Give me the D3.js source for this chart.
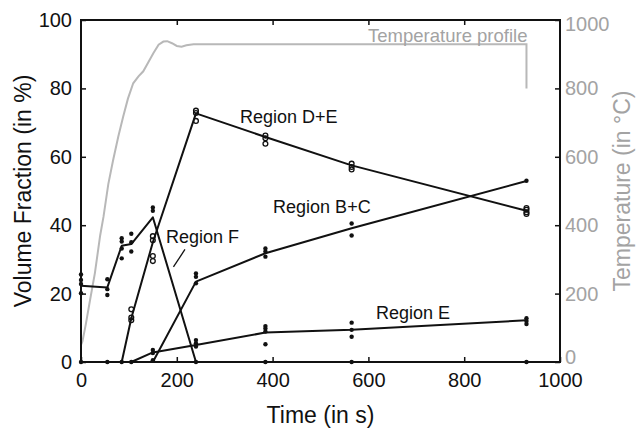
<!DOCTYPE html>
<html><head><meta charset="utf-8">
<script src="https://cdn.jsdelivr.net/npm/d3@7"></script>
<style>body{margin:0;background:#fff}svg{display:block;font-family:Arial,"Liberation Sans",sans-serif}</style>
</head><body><svg id="c" width="637" height="430"></svg>
<script>
// ---- data ----
const times = [0, 55, 85, 105, 150, 240, 385, 565, 930];
const regionF  = [22.3, 21.8, 34, 34.5, 42.3, 0, 0, 0, 0];
const regionDE = [0, 0, 0, 12.8, 35, 72.7, 65.8, 57.5, 44.2];
const regionBC = [0, 0, 0, 0, 0, 23.5, 31.8, 39.1, 52.9];
const regionE  = [0, 0, 0, 0, 2.8, 5, 8.6, 9.4, 12.2];

const dotsF  = [[0,25.6],[0,24],[0,22.8],[0,20.1],[55,24.2],[55,21.3],[55,19.6],[85,36.2],[85,35.2],[85,33.2],[85,30.3],[105,37.5],[105,35],[105,32.3],[150,45.2],[150,44.2],[240,0],[385,0],[565,0],[930,0]];
const dotsDEopen = [[105,15.4],[105,13],[105,12.2],[150,36.8],[150,35.6],[150,31],[150,29.5],[240,73.5],[240,72.8],[240,70.5],[385,66.2],[385,65.4],[385,63.8],[565,58],[565,57],[565,56.3],[930,45],[930,44.5],[930,43.8],[930,43.3]];
const dotsDEzero = [[0,0],[55,0],[85,0]];
const dotsBC = [[150,0.5],[240,25.9],[240,24.9],[240,23],[385,33.2],[385,32.3],[385,30.8],[565,40.5],[565,37],[930,53]];
const dotsE  = [[105,0],[150,3.5],[150,2.6],[240,6.4],[240,5.5],[240,4.5],[385,10.5],[385,9.8],[385,8.9],[385,5.2],[565,11.5],[565,9.4],[565,7.4],[930,12.8],[930,12],[930,11.1]];

const tempTime  = [0, 3, 10, 20, 29, 40, 47, 57, 67, 78, 88, 98, 109, 120, 130, 140, 151, 162, 172, 180, 190, 200, 210, 220, 235, 930, 930];
const tempValue = [50, 60, 110, 190, 260, 370, 425, 520, 590, 660, 717, 770, 815, 835, 850, 875, 903, 928, 937, 938, 932, 924, 922, 926, 929, 929, 800];

const xTicks = [0, 200, 400, 600, 800, 1000];
const yTicks = [0, 20, 40, 60, 80, 100];
const y2Ticks = [0, 200, 400, 600, 800, 1000];

const labels = [
  {text: "Region D+E", t: 332, v: 69.9},
  {text: "Region B+C", t: 401, v: 43.6},
  {text: "Region F", t: 177.5, v: 34.7},
  {text: "Region E", t: 616, v: 12.6}
];

// ---- layout ----
const L = 81, R = 560, T = 20, B = 362;
const FONT = "Arial, 'Liberation Sans', sans-serif";
const svg = d3.select("#c");
const x = d3.scaleLinear().domain([0, 1000]).range([L, R]);
const y = d3.scaleLinear().domain([0, 100]).range([B, T]);
const y2 = d3.scaleLinear().domain([0, 1000]).range([B, T]);
const gray = "#a3a3a3";

// temperature profile
svg.append("path")
  .datum(tempTime.map((t, i) => [t, tempValue[i]]))
  .attr("fill", "none").attr("stroke", "#b8b8b8").attr("stroke-width", 2)
  .attr("d", d3.line().x(d => x(d[0])).y(d => y2(d[1])));

// region lines
const line = d3.line().x(d => x(d[0])).y(d => y(d[1]));
[regionF, regionDE, regionBC, regionE].forEach(s => {
  svg.append("path").datum(times.map((t, i) => [t, s[i]]))
    .attr("fill", "none").attr("stroke", "#111").attr("stroke-width", 2)
    .attr("stroke-linejoin", "round").attr("d", line);
});

// dots
const filled = dotsF.concat(dotsDEzero, dotsBC, dotsE);
svg.append("g").selectAll("circle").data(filled).join("circle")
  .attr("cx", d => x(d[0])).attr("cy", d => y(d[1])).attr("r", 2.2).attr("fill", "#111");
svg.append("g").selectAll("circle").data(dotsDEopen).join("circle")
  .attr("cx", d => x(d[0])).attr("cy", d => y(d[1])).attr("r", 2.4)
  .attr("fill", "none").attr("stroke", "#111").attr("stroke-width", 1.3);

// axes
const ax = g => g.selectAll(".domain").remove();
svg.append("g").attr("transform", `translate(0,${B})`)
  .call(d3.axisBottom(x).tickValues(xTicks).tickSizeInner(-5).tickSizeOuter(0).tickPadding(11).tickFormat(d3.format("d")))
  .call(ax).call(g => g.selectAll("text").attr("font-size", 20).attr("fill", "#111").attr("font-family", FONT))
  .call(g => g.selectAll("line").attr("stroke", "#111").attr("stroke-width", 1.5));
svg.append("g").attr("transform", `translate(0,${T})`)
  .call(d3.axisTop(x).tickValues(xTicks.slice(1, -1)).tickSizeInner(-5).tickSizeOuter(0).tickFormat(""))
  .call(ax).call(g => g.selectAll("line").attr("stroke", "#111").attr("stroke-width", 1.5));
svg.append("g").attr("transform", `translate(${L},0)`)
  .call(d3.axisLeft(y).tickValues(yTicks).tickSizeInner(-5).tickSizeOuter(0).tickPadding(9))
  .call(ax).call(g => g.selectAll("text").attr("font-size", 20).attr("fill", "#111").attr("font-family", FONT))
  .call(g => g.selectAll("line").attr("stroke", "#111").attr("stroke-width", 1.5));
svg.append("g").attr("transform", `translate(${R},0)`)
  .call(d3.axisRight(y2).tickValues(y2Ticks).tickSizeInner(-5).tickSizeOuter(0).tickPadding(5).tickFormat(d3.format("d")))
  .call(ax).call(g => g.selectAll("text").attr("font-size", 20).attr("fill", gray).attr("font-family", FONT)
      .attr("dy", d => d === 0 ? "0.05em" : d === 1000 ? "0.5em" : "0.32em"))
  .call(g => g.selectAll("line").attr("stroke", "#111").attr("stroke-width", 1.5));

// frame
svg.append("rect").attr("x", L).attr("y", T).attr("width", R - L).attr("height", B - T)
  .attr("fill", "none").attr("stroke", "#111").attr("stroke-width", 2);

// axis titles
svg.append("text").attr("x", (L + R) / 2).attr("y", 423).attr("text-anchor", "middle")
  .attr("font-size", 23).attr("fill", "#111").text("Time (in s)");
svg.append("text").attr("transform", `translate(31,${(T + B) / 2}) rotate(-90)`).attr("text-anchor", "middle")
  .attr("font-size", 23).attr("fill", "#111").text("Volume Fraction (in %)");
svg.append("text").attr("transform", `translate(630,${(T + B) / 2}) rotate(-90)`).attr("text-anchor", "middle")
  .attr("font-size", 23).attr("fill", gray).text("Temperature (in °C)");

// region labels
svg.append("g").selectAll("text").data(labels).join("text")
  .attr("x", d => x(d.t)).attr("y", d => y(d.v)).attr("text-anchor", "start")
  .attr("font-size", 18).attr("fill", "#111").text(d => d.text);
// leader for Region F
svg.append("line").attr("x1", x(217)).attr("y1", y(32.9)).attr("x2", x(193)).attr("y2", y(27.8))
  .attr("stroke", "#111").attr("stroke-width", 1.3);
// temperature profile label
svg.append("text").attr("x", x(930) + 1).attr("y", y2(936)).attr("text-anchor", "end")
  .attr("font-size", 18.5).attr("fill", gray).text("Temperature profile");
</script></body></html>
